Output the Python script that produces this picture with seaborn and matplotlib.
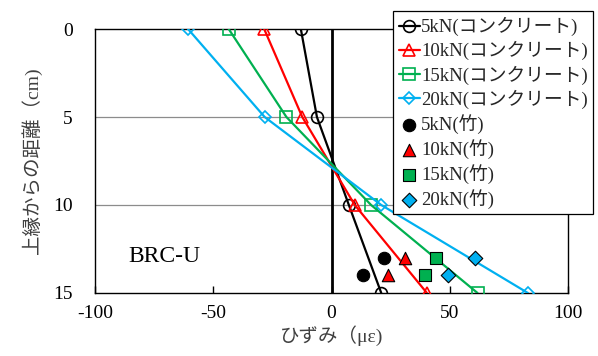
import matplotlib
matplotlib.use("Agg")
import matplotlib.pyplot as plt
import seaborn as sns
import pandas as pd

# Depth from the top edge (cm) and measured strain (με)
depth_concrete = [0, 5, 10, 15]
strain_5kN_c = [-13, -6.2, 7.3, 21]
strain_10kN_c = [-28.5, -12.4, 9.8, 40.3]
strain_15kN_c = [-43.5, -19.1, 16.7, 61.7]
strain_20kN_c = [-60.7, -28.3, 21, 83]

depth_bamboo = [13, 14]
strain_5kN_b = [22.1, 13.4]
strain_10kN_b = [31.2, 23.8]
strain_15kN_b = [44, 39.6]
strain_20kN_b = [60.5, 49.4]

loads = ["5kN", "10kN", "15kN", "20kN"]
colors = ["#000000", "#FF0000", "#00B050", "#00B0F0"]
markers = ["o", "^", "s", "D"]

x_ticks = [-100, -50, 0, 50, 100]
y_ticks = [0, 5, 10, 15]

concrete = [strain_5kN_c, strain_10kN_c, strain_15kN_c, strain_20kN_c]
bamboo = [strain_5kN_b, strain_10kN_b, strain_15kN_b, strain_20kN_b]

sns.set_theme(style="white")
plt.rcParams["font.family"] = ["Liberation Serif", "Noto Sans CJK JP", "DejaVu Sans"]

fig = plt.figure(figsize=(5.98, 3.56), dpi=100)
ax = fig.add_axes([0.159, 0.177, 0.791, 0.7415])

for load, col, mk, vals in zip(loads, colors, markers, concrete):
    df = pd.DataFrame({"strain": vals, "depth": depth_concrete})
    sns.lineplot(data=df, x="strain", y="depth", sort=False, estimator=None,
                 color=col, lw=1.6, marker=mk, markersize=8.5 if mk != "D" else 6.5,
                 markerfacecolor="none", markeredgecolor=col, markeredgewidth=1.2,
                 label=f"{load}(コンクリート)", ax=ax, zorder=3)

for load, col, mk, vals in zip(loads, colors, markers, bamboo):
    df = pd.DataFrame({"strain": vals, "depth": depth_bamboo})
    sns.scatterplot(data=df, x="strain", y="depth", color=col, marker=mk,
                    s=80 if mk != "D" else 55, edgecolor="#000000",
                    linewidth=0.8, label=f"{load}(竹)", ax=ax, zorder=4)

ax.set_xlim(-100, 100)
ax.set_ylim(15, 0)
ax.set_xticks(x_ticks)
ax.set_yticks(y_ticks)
ax.set_xticklabels([str(v) for v in x_ticks])
ax.set_yticklabels([str(v) for v in y_ticks])

# gridlines at the interior depths and the zero-strain axis
for yv in [5, 10]:
    ax.axhline(yv, color="#8C8C8C", lw=0.9, zorder=1)
ax.axvline(0, color="#000000", lw=2.0, zorder=2)

for sp in ax.spines.values():
    sp.set_color("#000000")
    sp.set_linewidth(1.0)

ax.tick_params(axis="x", direction="in", length=5, width=1, color="#000000",
               bottom=True, pad=9, labelsize=14, labelcolor="#000000")
ax.tick_params(axis="y", length=0, pad=16, labelsize=14, labelcolor="#000000")

ax.set_xlabel("ひずみ（με)", fontsize=14, color="#404040", labelpad=2)
ax.set_ylabel("上縁からの距離（cm)", fontsize=14, color="#404040", labelpad=8)

ax.text(-86, 12.9, "BRC-U", fontsize=17, color="#000000", va="center", ha="left")

handles, labels = ax.get_legend_handles_labels()
if ax.get_legend() is not None:
    ax.get_legend().remove()
leg = fig.legend(handles, labels, loc="upper left", bbox_to_anchor=(0.657, 0.968),
                 fontsize=13.5, frameon=True, fancybox=False, edgecolor="#000000",
                 framealpha=1, borderpad=0.3, labelspacing=0.27,
                 handlelength=1.15, handletextpad=0.05, borderaxespad=0)
leg.get_frame().set_linewidth(0.9)

fig.savefig("out.png", dpi=100)
